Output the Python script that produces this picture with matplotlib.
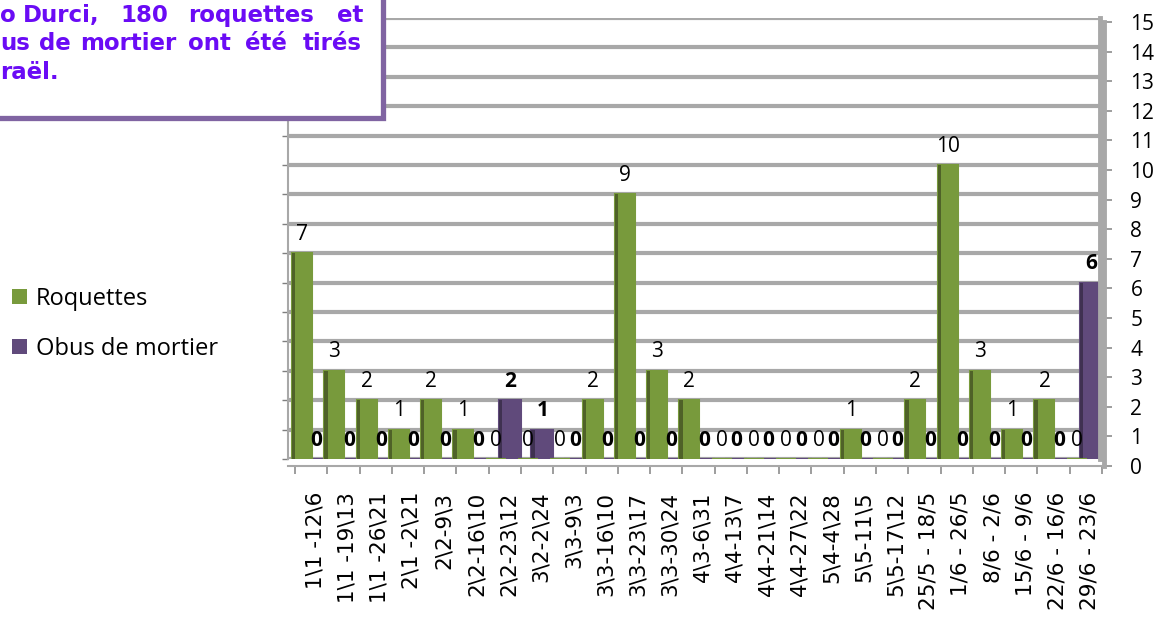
import matplotlib
matplotlib.use("Agg")
import matplotlib.pyplot as plt
from matplotlib.patches import Rectangle, Patch
from matplotlib.transforms import ScaledTranslation
import numpy as np

# ---------------- data ----------------
periods = [r"1\1 -12\6", r"1\1 -19\13", r"1\1 -26\21", r"2\1 -2\21", r"2\2-9\3",
           r"2\2-16\10", r"2\2-23\12", r"3\2-2\24", r"3\3-9\3", r"3\3-16\10",
           r"3\3-23\17", r"3\3-30\24", r"4\3-6\31", r"4\4-13\7", r"4\4-21\14",
           r"4\4-27\22", r"5\4-4\28", r"5\5-11\5", r"5\5-17\12", "25/5 - 18/5",
           "1/6 - 26/5", "8/6 - 2/6", "15/6 - 9/6", "22/6 - 16/6", "29/6 - 23/6"]
roquettes = [7, 3, 2, 1, 2, 1, 0, 0, 0, 2, 9, 3, 2, 0, 0, 0, 0, 1, 0, 2, 10, 3, 1, 2, 0]
obus = [0, 0, 0, 0, 0, 0, 2, 1, 0, 0, 0, 0, 0, 0, 0, 0, 0, 0, 0, 0, 0, 0, 0, 0, 6]
y_ticks = list(range(0, 16))
series_names = ["Roquettes", "Obus de mortier"]
# visible part of the (cropped) annotation box, word by word
title_lines = [
    [("o", 0), ("Durci,", 23), ("180", 120), ("roquettes", 188), ("et", 337)],
    [("us", 0), ("de", 39), ("mortier", 80), ("ont", 188), ("été", 245), ("tirés", 303)],
    [("raël.", 0)],
]

# ---------------- style ----------------
W, H = 1168, 630
GREEN = "#789A3C"
GREEN_DARK = "#4F6228"
PURPLE = "#604A7B"
PURPLE_DARK = "#3F3151"
GRID = "#A8A8A8"
TXT_PURPLE = "#6A0BF5"
BOX_EDGE = "#8064A2"
LABEL_FONT = "Open Sans"

fig = plt.figure(figsize=(W / 100, H / 100), dpi=100)
fig.patch.set_facecolor("white")

def fx(px):
    return px / W

def fy(py):
    return 1 - py / H

# back axes (bars + back-wall grid)
scale = 32.28
x_left = -0.5 - 7 / scale
x_right_back = -0.5 + 805 / scale
ax = fig.add_axes([fx(288), fy(459), fx(1100) - fx(288), (459 - 18) / H])
ax.set_xlim(x_left, x_right_back)
ax.set_ylim(0, 15)
ax.set_axisbelow(True)
ax.set_yticks(y_ticks)
ax.yaxis.grid(True, color=GRID, linewidth=3)
ax.set_xticks([])
ax.tick_params(axis="y", left=True, right=False, labelleft=False, length=4,
               color="#7F7F7F", width=1)
for s in ["top", "bottom"]:
    ax.spines[s].set_visible(False)
ax.spines["left"].set_color(GRID)
ax.spines["left"].set_linewidth(1.5)
ax.spines["right"].set_color(GRID)
ax.spines["right"].set_linewidth(3.5)
ax.patch.set_alpha(0)

x = np.arange(len(periods))
g_off, g_w = -0.283, 0.62
p_off, p_w = 0.166, 0.68
xp = x + p_off
xg = x + g_off

ax.bar(xp, obus, width=p_w, color=PURPLE, edgecolor=PURPLE, linewidth=1.5, zorder=2)
ax.bar(xp - p_w / 2 + 0.05, obus, width=0.1, color=PURPLE_DARK, linewidth=0, zorder=2.1)
ax.bar(xg, roquettes, width=g_w, color=GREEN, edgecolor=GREEN, linewidth=1.5, zorder=3)
ax.bar(xg - g_w / 2 + 0.05, roquettes, width=0.1, color=GREEN_DARK, linewidth=0, zorder=3.1)

for xi, v in zip(xg, roquettes):
    ax.annotate(str(v), (xi, v), xytext=(0, 19), textcoords="offset pixels",
                ha="center", va="center", fontsize=15, family=LABEL_FONT,
                color="black", zorder=5)
for xi, v in zip(xp, obus):
    ax.annotate(str(v), (xi, v), xytext=(0, 19), textcoords="offset pixels",
                ha="center", va="center", fontsize=15, family=LABEL_FONT,
                fontweight="bold", color="black", zorder=5)

# front axes (value axis labels + category axis)
ax2 = fig.add_axes([fx(288), fy(466), fx(1104) - fx(288), (466 - 22) / H])
ax2.patch.set_alpha(0)
ax2.set_xlim(x_left, -0.5 + 809 / scale)
ax2.set_ylim(0, 15)
for s in ["top", "left"]:
    ax2.spines[s].set_visible(False)
ax2.spines["bottom"].set_color(GRID)
ax2.spines["bottom"].set_linewidth(1.5)
ax2.spines["right"].set_color(GRID)
ax2.spines["right"].set_linewidth(3.5)
ax2.yaxis.tick_right()
ax2.set_yticks(y_ticks)
ax2.set_yticklabels([str(t) for t in y_ticks], family=LABEL_FONT, fontsize=15)
ax2.tick_params(axis="y", length=6, width=1.2, color="#8C8C8C", pad=13)
ax2.set_xticks(np.arange(-0.5, len(periods), 1.0))
ax2.set_xticklabels([])
ax2.tick_params(axis="x", which="major", length=6, width=1.2, color="#8C8C8C",
                direction="out")
ax2.set_xticks(x, periods, minor=True)
ax2.tick_params(axis="x", which="minor", length=0, pad=18.5)
shift = ScaledTranslation(4 / 100, 0, fig.dpi_scale_trans)
for lab in ax2.get_xticklabels(minor=True):
    lab.set_rotation(90)
    lab.set_fontsize(15.5)
    lab.set_family("DejaVu Sans")
    lab.set_ha("center")
    lab.set_va("top")
    lab.set_transform(lab.get_transform() + shift)

# legend
fig.legend(handles=[Patch(fc=GREEN), Patch(fc=PURPLE)], labels=series_names,
           loc="upper left", bbox_to_anchor=(fx(12), fy(287)), frameon=False,
           handlelength=0.62, handleheight=0.62, handletextpad=0.4,
           labelspacing=1.1, borderpad=0, borderaxespad=0,
           prop={"family": LABEL_FONT, "size": 17})

# text box (partially outside the figure)
box = Rectangle((fx(-30), fy(118)), fx(383 + 30), (118 + 30) / H,
                transform=fig.transFigure, facecolor="white",
                edgecolor=BOX_EDGE, linewidth=3.8, zorder=4)
fig.patches.append(box)
baselines = [22, 50, 79]
for line, yb in zip(title_lines, baselines):
    for word, xpx in line:
        fig.text(fx(xpx), fy(yb), word, ha="left", va="baseline",
                 family="DejaVu Sans", fontweight="bold", fontsize=16.5,
                 color=TXT_PURPLE, zorder=6)

fig.savefig("out.png", dpi=100)
